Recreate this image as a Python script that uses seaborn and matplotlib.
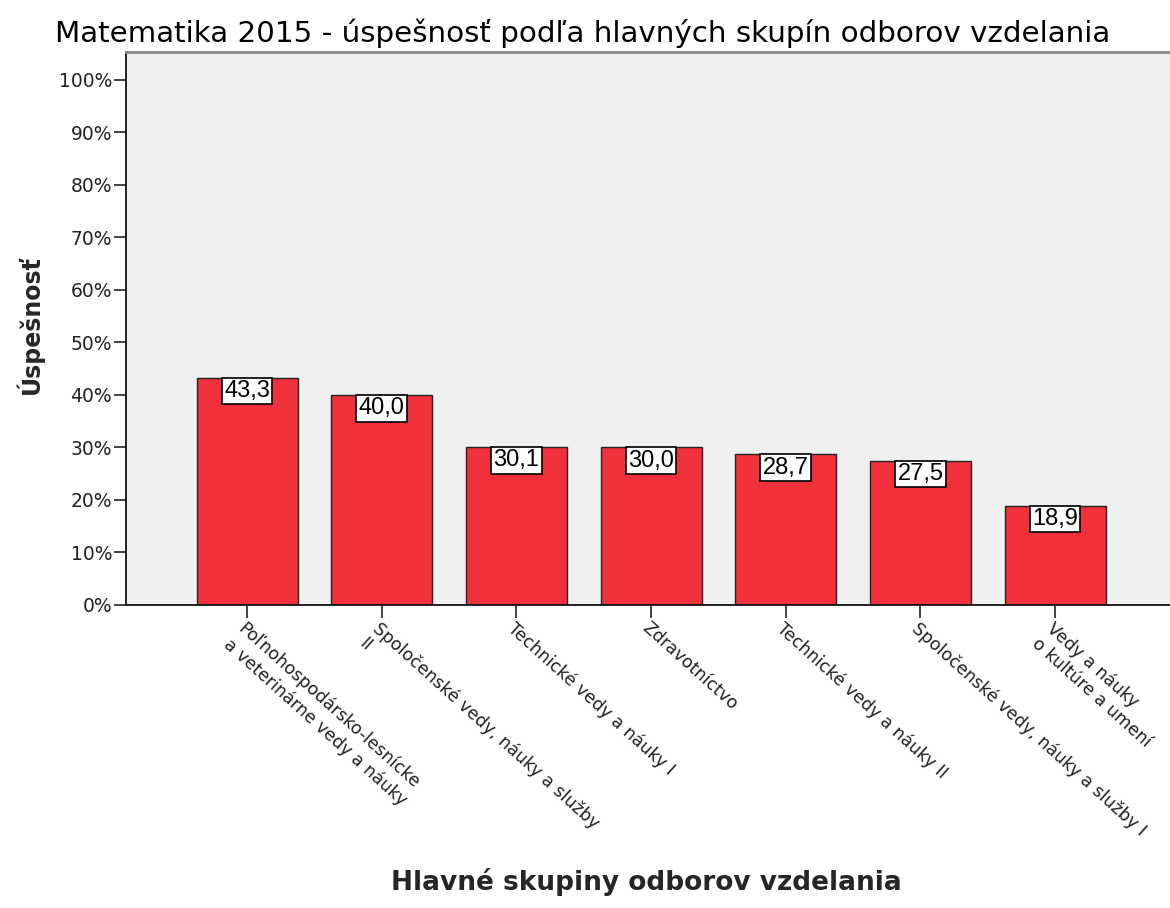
import matplotlib
matplotlib.use("Agg")
import matplotlib.pyplot as plt
import seaborn as sns
import pandas as pd
from matplotlib.ticker import PercentFormatter

categories = [
    "Poľnohospodársko-lesnícke\na veterinárne vedy a náuky",
    "Spoločenské vedy, náuky a služby\nII",
    "Technické vedy a náuky I",
    "Zdravotníctvo",
    "Technické vedy a náuky II",
    "Spoločenské vedy, náuky a služby I",
    "Vedy a náuky\no kultúre a umení",
]
values = [43.3, 40.0, 30.1, 30.0, 28.7, 27.5, 18.9]
value_labels = ["43,3", "40,0", "30,1", "30,0", "28,7", "27,5", "18,9"]
yticks = [0, 10, 20, 30, 40, 50, 60, 70, 80, 90, 100]

df = pd.DataFrame({"cat": categories, "val": values})

sns.set_style("white")
plt.rcParams["font.family"] = ["DejaVu Sans"]

fig = plt.figure(figsize=(11.7, 9.08), dpi=100)
ax = fig.add_axes([126 / 1170, 1 - 605 / 908, (1170 - 126) / 1170, (605 - 52) / 908])
ax.set_facecolor("#F0F0F0")

sns.barplot(data=df, x="cat", y="val", color="#F0313B", saturation=1,
            width=0.75, edgecolor="#222222", linewidth=1.0, ax=ax)

ax.set_ylim(0, 105.3)
ax.set_xlim(-0.8985, 6.853)
ax.set_yticks(yticks)
ax.yaxis.set_major_formatter(PercentFormatter(decimals=0))

for i, (v, lab) in enumerate(zip(values, value_labels)):
    ax.text(i, v - 0.45, lab, ha="center", va="top", fontsize=17, color="black",
            family=["Liberation Sans"],
            bbox=dict(boxstyle="square,pad=0.1", facecolor="white", edgecolor="black", linewidth=1.2))

ax.tick_params(axis="y", length=9, width=1.2, color="#222222", labelsize=13.5, pad=1, left=True)
ax.tick_params(axis="x", length=9, width=1.2, color="#222222", labelsize=12.5, pad=1, bottom=True)
ax.set_xticks(range(len(categories)))
ax.set_xticklabels(categories, rotation=-42, ha="left", va="top",
                   rotation_mode="anchor", multialignment="left", color="#222222")
for t in ax.get_yticklabels():
    t.set_color("#222222")

for s in ["left", "bottom"]:
    ax.spines[s].set_color("#111111")
    ax.spines[s].set_linewidth(1.3)
ax.spines["top"].set_color("#888888")
ax.spines["top"].set_linewidth(2)
ax.spines["right"].set_visible(False)

ax.set_xlabel("")
ax.set_ylabel("")
fig.text(55 / 1170, 1 - 33 / 908, "Matematika 2015 - úspešnosť podľa hlavných skupín odborov vzdelania",
         ha="left", va="center", fontsize=21.2, color="black")
fig.text(30 / 1170, 1 - 325 / 908, "Úspešnosť", rotation=90, ha="center", va="center",
         fontsize=17, fontweight="bold")
fig.text(646 / 1170, 1 - 882 / 908, "Hlavné skupiny odborov vzdelania", ha="center", va="center",
         fontsize=19, fontweight="bold")

fig.savefig("out.png", dpi=100)
